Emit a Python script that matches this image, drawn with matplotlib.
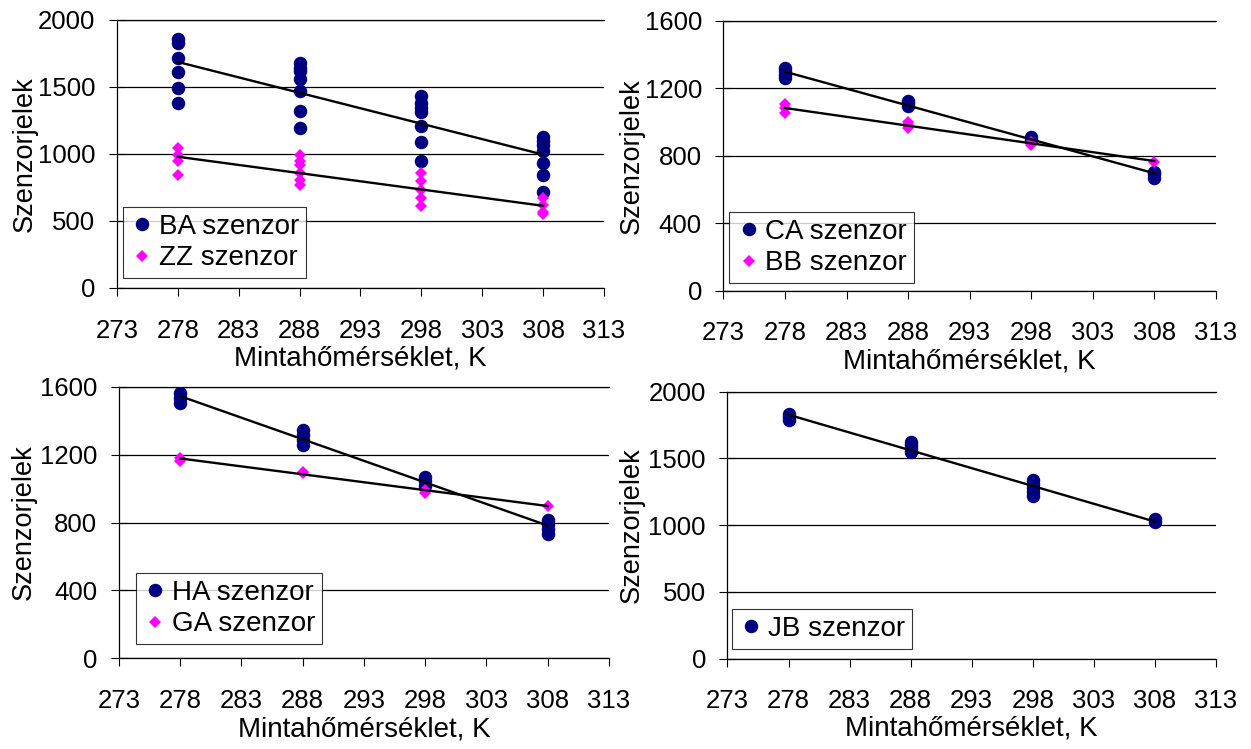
import numpy as np
import matplotlib
matplotlib.use("Agg")
import matplotlib.pyplot as plt

plt.rcParams["font.family"] = ["Liberation Sans", "DejaVu Sans"]

# Sample temperatures (K)
temps = [278, 288, 298, 308]

# Sensor signals at each temperature (repeated measurements)
ba_signal = [[1860, 1825, 1720, 1610, 1490, 1380],
             [1680, 1645, 1620, 1560, 1470, 1320, 1195],
             [1430, 1380, 1340, 1310, 1210, 1090, 945],
             [1125, 1095, 1065, 1020, 930, 840, 715]]
zz_signal = [[1045, 990, 945, 845],
             [990, 950, 920, 855, 805, 770],
             [855, 795, 730, 670, 610],
             [670, 620, 570, 555]]
ca_signal = [[1320, 1300, 1280, 1260],
             [1125, 1110, 1095],
             [910, 895],
             [705, 690, 670]]
bb_signal = [[1105, 1080, 1055],
             [1000, 980, 965],
             [880, 865],
             [765]]
ha_signal = [[1560, 1535, 1505],
             [1345, 1315, 1285, 1255],
             [1070, 1045, 1015],
             [815, 790, 760, 735]]
ga_signal = [[1180, 1165],
             [1100, 1090],
             [990, 975],
             [900]]
jb_signal = [[1835, 1810, 1790],
             [1625, 1600, 1575, 1550],
             [1340, 1310, 1280, 1250, 1215],
             [1045, 1020]]

x_ticks = [273, 278, 283, 288, 293, 298, 303, 308, 313]
y_ticks_2000 = [0, 500, 1000, 1500, 2000]
y_ticks_1600 = [0, 400, 800, 1200, 1600]

x_label = "Mintahőmérséklet, K"
y_label = "Szenzorjelek"

NAVY = "#000080"
MAGENTA = "#FF00FF"

W, H = 1251, 749
fig = plt.figure(figsize=(W / 100, H / 100), dpi=100)


def flatten(series):
    xs, ys = [], []
    for t, vals in zip(temps, series):
        xs.extend([t] * len(vals))
        ys.extend(vals)
    return np.array(xs, float), np.array(ys, float)


def draw_series(ax, series, name, marker, color, ms):
    xs, ys = flatten(series)
    h, = ax.plot(xs, ys, linestyle="none", marker=marker, color=color,
                 markersize=ms, markeredgewidth=0, zorder=3, label=name)
    # least-squares trend line over the measured temperature range
    k, b = np.polyfit(xs, ys, 1)
    xt = np.array([temps[0], temps[-1]], float)
    ax.plot(xt, k * xt + b, color="black", lw=1.7, zorder=4)
    return h


def panel(rect, yticks, series_list, legend_anchor, ylab_x):
    ax = fig.add_axes(rect)
    handles = []
    for series, name, marker, color, ms in series_list:
        handles.append(draw_series(ax, series, name, marker, color, ms))
    ax.set_xlim(x_ticks[0], x_ticks[-1])
    ax.set_ylim(yticks[0], yticks[-1])
    ax.set_xticks(x_ticks)
    ax.set_yticks(yticks)
    ax.tick_params(axis="x", direction="out", length=6, width=0.8,
                   labelsize=18.5, pad=16)
    ax.tick_params(axis="y", direction="inout", length=11, width=0.8,
                   labelsize=18.5, pad=10)
    ax.grid(axis="y", color="black", lw=0.9, zorder=1)
    ax.set_axisbelow(True)
    ax.spines["right"].set_visible(False)
    for side in ("left", "bottom", "top"):
        ax.spines[side].set_linewidth(0.9)
        ax.spines[side].set_color("black")
    ax.set_xlabel(x_label, fontsize=20)
    ax.xaxis.set_label_coords(0.5, -0.213)
    ax.set_ylabel(y_label, fontsize=19.5)
    ax.yaxis.set_label_coords(ylab_x, 0.5)
    leg = ax.legend(handles=handles, loc="lower left",
                    bbox_to_anchor=legend_anchor, borderaxespad=0,
                    fontsize=20, frameon=True, fancybox=False, shadow=False,
                    borderpad=0.25, labelspacing=0.2, handlelength=0.9,
                    handletextpad=0.15, numpoints=1)
    leg.get_frame().set_edgecolor("black")
    leg.get_frame().set_linewidth(0.8)
    leg.set_zorder(6)
    return ax


circle = ("o", NAVY, 9.7)
diamond = ("D", MAGENTA, 6.3)

panel([0.0935, 0.6155, 0.3893, 0.3578], y_ticks_2000,
      [(ba_signal, "BA szenzor", *circle), (zz_signal, "ZZ szenzor", *diamond)],
      (0.012, 0.036), -0.163)
panel([0.5783, 0.6119, 0.3937, 0.3605], y_ticks_1600,
      [(ca_signal, "CA szenzor", *circle), (bb_signal, "BB szenzor", *diamond)],
      (0.012, 0.027), -0.16)
panel([0.0951, 0.1211, 0.3917, 0.3626], y_ticks_1600,
      [(ha_signal, "HA szenzor", *circle), (ga_signal, "GA szenzor", *diamond)],
      (0.034, 0.052), -0.167)
panel([0.5815, 0.1208, 0.3905, 0.3562], y_ticks_2000,
      [(jb_signal, "JB szenzor", *circle)],
      (0.009, 0.036), -0.17)

fig.savefig("out.png", dpi=100)
